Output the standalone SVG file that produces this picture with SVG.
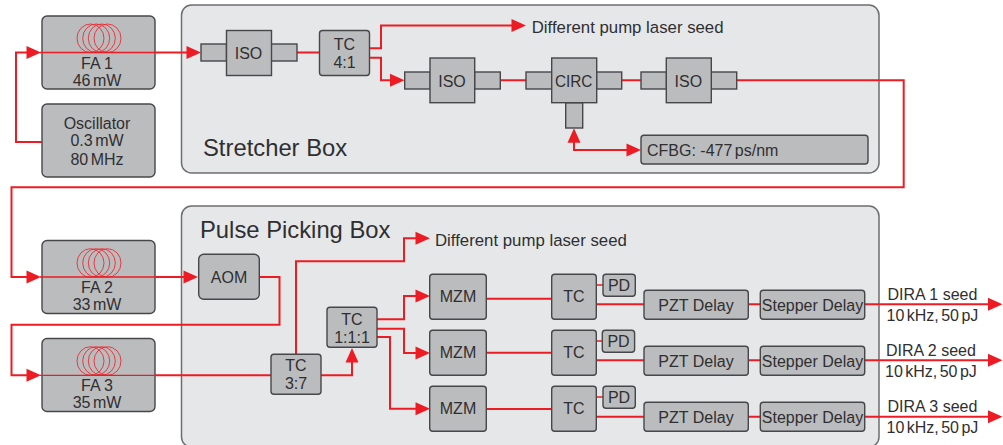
<svg xmlns="http://www.w3.org/2000/svg" width="1003" height="445" viewBox="0 0 1003 445">
<style>
text{font-family:"Liberation Sans",Arial,sans-serif;fill:#2f2f31;font-size:16px}
.m{text-anchor:middle}
.b{font-size:23.8px}
.s{font-size:16.8px}
.box{fill:#e6e7e9;stroke:#6d6e70;stroke-width:1.5}
.n{fill:#bbbcbe;stroke:#47474a;stroke-width:1.4}
.w{fill:none;stroke:#ed1c24;stroke-width:2}
.t{fill:none;stroke:#ed1c24;stroke-width:1.3}
.c{fill:none;stroke:#ed2a32;stroke-width:.9}
.a{fill:#ed1c24}
</style>
<defs>
<g id="coil" class="c"><ellipse cx="90.500" cy="38.300" rx="13.500" ry="14.300"/><ellipse cx="96.200" cy="38.300" rx="13.500" ry="14.300"/><ellipse cx="101.800" cy="38.300" rx="13.500" ry="14.300"/><ellipse cx="107.500" cy="38.300" rx="13.500" ry="14.300"/></g>
<polygon id="ar" points="0,0 -14.500,-6.500 -14.500,6.500"/>
</defs>
<rect id="stretcher-box" class="box" x="181.500" y="5" width="697.500" height="168" rx="10"/>
<rect id="pulse-box" class="box" x="181.500" y="206" width="697.500" height="241" rx="10"/>
<g id="fa1"><rect class="n" x="42" y="16" width="113" height="73" rx="5"/><use href="#coil"/><text class="m" x="97" y="69">FA 1</text><text class="m" x="97" y="86" word-spacing="-2">46 mW</text></g>
<g id="osc"><rect class="n" x="42" y="104" width="113" height="73" rx="5"/><text class="m" x="97" y="129">Oscillator</text><text class="m" x="97" y="146" word-spacing="-2">0.3 mW</text><text class="m" x="97" y="165" word-spacing="-2">80 MHz</text></g>
<g id="fa2"><rect class="n" x="42" y="240.500" width="113" height="73" rx="5"/><use href="#coil" y="224.700"/><text class="m" x="97" y="293">FA 2</text><text class="m" x="97" y="310" word-spacing="-2">33 mW</text></g>
<g id="fa3"><rect class="n" x="42" y="338.500" width="113" height="73" rx="5"/><use href="#coil" y="322.700"/><text class="m" x="97" y="391">FA 3</text><text class="m" x="97" y="408" word-spacing="-2">35 mW</text></g>
<g id="connectors">
<path class="w" d="M42 142H16V52.500H30"/>
<path class="t" d="M40 52.500H155"/>
<path class="w" d="M155 52.500H190M297 52.500H320M370 48.300H381V25.500H512M370 57.700H381V80.300H392"/>
<path class="w" d="M500 80.300H526M622 80.300H641M736.700 80.300H903.700V187.300H11.500V277H28"/>
<path class="t" d="M40 277H155"/>
<path class="w" d="M155 277H186M259 277H279.500V324.700H11.500V375.300H28"/>
<path class="t" d="M40 375.300H155"/>
<path class="w" d="M155 375.300H271M321 375.300H352V360M296 354V261.300H404V238.300H418M377 319.300H404V296H418M377 328.700H404V353H418M377 337H390V408.700H418"/>
<path class="w" d="M486 298.700H552M486 352.700H552M486 409H552M596 304.300H644M596 360.300H644M596 416.700H644M748 304.300H760M748 360.300H760M748 416.700H760M865 304.300H990M865 360.300H990M865 416.700H990"/>
<path class="t" d="M596 285H603M596 341H603M596 397H603"/>
<path class="w" d="M574 140V150H628"/>
<g class="a">
<use href="#ar" x="41" y="52.500"/><use href="#ar" x="201" y="52.500"/><use href="#ar" x="526" y="25.500"/><use href="#ar" x="404.500" y="80.300"/>
<use href="#ar" x="641" y="150"/><use href="#ar" transform="translate(574 128.300) rotate(-90)"/>
<use href="#ar" x="41" y="277"/><use href="#ar" x="198" y="277"/><use href="#ar" x="41" y="375.300"/>
<use href="#ar" transform="translate(352 348) rotate(-90)"/>
<use href="#ar" x="430" y="238.300"/><use href="#ar" x="430" y="296"/><use href="#ar" x="430" y="353"/><use href="#ar" x="430" y="408.700"/>
<use href="#ar" x="1002.500" y="304.300"/><use href="#ar" x="1002.500" y="360.300"/><use href="#ar" x="1002.500" y="416.700"/>
</g>
</g>
<g id="iso1"><rect class="n" x="201" y="44" width="25.500" height="17"/><rect class="n" x="271" y="44" width="26" height="17"/><rect class="n" x="226.500" y="30.500" width="45" height="45"/><text class="m" x="248.500" y="59">ISO</text></g>
<g id="tc41"><rect class="n" x="319.500" y="30.500" width="50" height="45" rx="3"/><text class="m" x="344.500" y="50">TC</text><text class="m" x="344.500" y="68">4:1</text></g>
<g id="iso2"><rect class="n" x="404.700" y="72" width="25.500" height="17"/><rect class="n" x="474.500" y="72" width="25.800" height="17"/><rect class="n" x="430" y="58" width="44.700" height="44.700"/><text class="m" x="452" y="86.500">ISO</text></g>
<g id="circ"><rect class="n" x="526" y="72" width="25.700" height="17"/><rect class="n" x="596.500" y="72" width="25.200" height="17"/><rect class="n" x="565.700" y="102.700" width="17" height="25.300"/><rect class="n" x="551.700" y="58" width="45" height="44.700"/><text class="m" x="573.700" y="86.500" textLength="37.500" lengthAdjust="spacingAndGlyphs">CIRC</text></g>
<g id="iso3"><rect class="n" x="641" y="72" width="25.500" height="17"/><rect class="n" x="711" y="72" width="25.700" height="17"/><rect class="n" x="666.300" y="58" width="45" height="44.700"/><text class="m" x="688.300" y="86.500">ISO</text></g>
<g id="cfbg"><rect class="n" x="641" y="135.300" width="227" height="28.700" rx="3"/><text x="647" y="156">CFBG: <tspan word-spacing="-2">-477 ps/nm</tspan></text></g>
<g id="aom"><rect class="n" x="198.700" y="254.300" width="60.600" height="45" rx="5"/><text class="m" x="229" y="283">AOM</text></g>
<g id="tc37"><rect class="n" x="271" y="354.300" width="50" height="40" rx="3"/><text class="m" x="296" y="371">TC</text><text class="m" x="296" y="389">3:7</text></g>
<g id="tc111"><rect class="n" x="327" y="307.300" width="50" height="40" rx="3"/><text class="m" x="352" y="325">TC</text><text class="m" x="352" y="343">1:1:1</text></g>
<g id="row1"><rect class="n" x="429.700" y="274.300" width="56.600" height="45" rx="3"/><text class="m" x="458" y="302">MZM</text><rect class="n" x="551.700" y="274.300" width="44.600" height="45" rx="3"/><text class="m" x="574" y="302">TC</text><rect class="n" x="603" y="274.300" width="32.300" height="22" rx="3"/><text class="m" x="619" y="291">PD</text><rect class="n" x="644" y="290.300" width="104.300" height="29" rx="3"/><text class="m" x="696" y="311">PZT Delay</text><rect class="n" x="760.300" y="290.300" width="104.400" height="29" rx="3"/><text class="m" x="812.500" y="311">Stepper Delay</text></g>
<g id="row2"><rect class="n" x="429.700" y="330.300" width="56.600" height="45" rx="3"/><text class="m" x="458" y="358">MZM</text><rect class="n" x="551.700" y="330.300" width="44.600" height="45" rx="3"/><text class="m" x="574" y="358">TC</text><rect class="n" x="602.300" y="330.300" width="32.300" height="22" rx="3"/><text class="m" x="618.500" y="347">PD</text><rect class="n" x="644" y="346.300" width="104.300" height="29" rx="3"/><text class="m" x="696" y="367">PZT Delay</text><rect class="n" x="760.300" y="346.300" width="104.400" height="29" rx="3"/><text class="m" x="812.500" y="367">Stepper Delay</text></g>
<g id="row3"><rect class="n" x="429.700" y="386.300" width="56.600" height="45" rx="3"/><text class="m" x="458" y="414">MZM</text><rect class="n" x="551.700" y="386.300" width="44.600" height="45" rx="3"/><text class="m" x="574" y="414">TC</text><rect class="n" x="603" y="386.300" width="32.300" height="22" rx="3"/><text class="m" x="619" y="403">PD</text><rect class="n" x="644" y="402.300" width="104.300" height="29" rx="3"/><text class="m" x="696" y="423">PZT Delay</text><rect class="n" x="760.300" y="402.300" width="104.400" height="29" rx="3"/><text class="m" x="812.500" y="423">Stepper Delay</text></g>
<g id="labels">
<text class="s" x="531.700" y="33">Different pump laser seed</text>
<text class="s" x="435" y="246">Different pump laser seed</text>
<text class="b" x="203" y="156">Stretcher Box</text>
<text class="b" x="200" y="238">Pulse Picking Box</text>
<text x="887.500" y="300">DIRA 1 seed</text><text x="886.500" y="321" word-spacing="-2">10 kHz, 50 pJ</text>
<text x="886" y="356">DIRA 2 seed</text><text x="885" y="377" word-spacing="-2">10 kHz, 50 pJ</text>
<text x="887.500" y="412">DIRA 3 seed</text><text x="886.500" y="433" word-spacing="-2">10 kHz, 50 pJ</text>
</g>
</svg>
